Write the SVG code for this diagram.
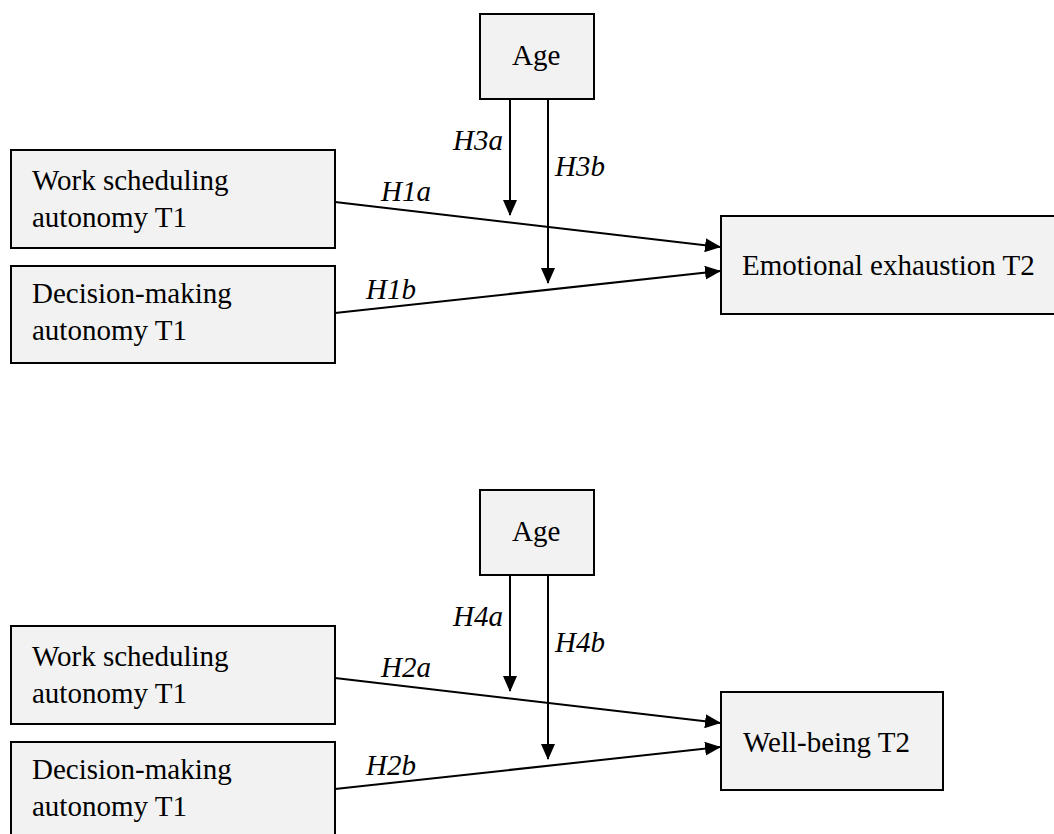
<svg xmlns="http://www.w3.org/2000/svg" width="1054" height="834" viewBox="0 0 1054 834">
  <style>
    .box { fill: #f2f2f2; stroke: #000; stroke-width: 2; }
    .txt { font-family: "Liberation Serif", "Times New Roman", serif; font-size: 29px; fill: #000; }
    .lbl { font-family: "Liberation Serif", "Times New Roman", serif; font-size: 29px; font-style: italic; fill: #000; }
    .conn { stroke: #000; stroke-width: 2; fill: none; marker-end: url(#arrow); }
  </style>
  <defs>
    <marker id="arrow" markerUnits="userSpaceOnUse" markerWidth="16" markerHeight="14" refX="15" refY="7" orient="auto">
      <path d="M0,0 L16,7 L0,14 Z" fill="#000"/>
    </marker>
  </defs>
  <rect width="1054" height="834" fill="#fff"/>

  <!-- Top model -->
  <g id="age1">
    <rect class="box" x="480" y="14" width="114" height="85"/>
    <text class="txt" x="512" y="65">Age</text>
  </g>
  <g id="work1">
    <rect class="box" x="11" y="150" width="324" height="98"/>
    <text class="txt" x="32" y="190">Work scheduling</text>
    <text class="txt" x="32" y="227">autonomy T1</text>
  </g>
  <g id="decision1">
    <rect class="box" x="11" y="266" width="324" height="97"/>
    <text class="txt" x="32" y="303">Decision-making</text>
    <text class="txt" x="32" y="340">autonomy T1</text>
  </g>
  <g id="emotional">
    <rect class="box" x="721" y="216" width="345" height="98"/>
    <text class="txt" x="742" y="275">Emotional exhaustion T2</text>
  </g>

  <!-- Bottom model -->
  <g id="age2">
    <rect class="box" x="480" y="490" width="114" height="85"/>
    <text class="txt" x="512" y="541">Age</text>
  </g>
  <g id="work2">
    <rect class="box" x="11" y="626" width="324" height="98"/>
    <text class="txt" x="32" y="666">Work scheduling</text>
    <text class="txt" x="32" y="703">autonomy T1</text>
  </g>
  <g id="decision2">
    <rect class="box" x="11" y="742" width="324" height="97"/>
    <text class="txt" x="32" y="779">Decision-making</text>
    <text class="txt" x="32" y="816">autonomy T1</text>
  </g>
  <g id="wellbeing">
    <rect class="box" x="721" y="692" width="222" height="98"/>
    <text class="txt" x="743" y="752">Well-being T2</text>
  </g>

  <g id="connectors">
    <line class="conn" x1="510" y1="100" x2="510" y2="215"/>
    <line class="conn" x1="548" y1="100" x2="548" y2="283"/>
    <line class="conn" x1="335" y1="202" x2="720" y2="247"/>
    <line class="conn" x1="335" y1="313" x2="720" y2="271"/>

    <line class="conn" x1="510" y1="576" x2="510" y2="691"/>
    <line class="conn" x1="548" y1="576" x2="548" y2="759"/>
    <line class="conn" x1="335" y1="678" x2="720" y2="723"/>
    <line class="conn" x1="335" y1="789" x2="720" y2="747"/>
  </g>

  <g id="labels">
    <text class="lbl" x="453" y="150">H3a</text>
    <text class="lbl" x="555" y="176">H3b</text>
    <text class="lbl" x="381" y="201">H1a</text>
    <text class="lbl" x="366" y="299">H1b</text>
    <text class="lbl" x="453" y="626">H4a</text>
    <text class="lbl" x="555" y="652">H4b</text>
    <text class="lbl" x="381" y="677">H2a</text>
    <text class="lbl" x="366" y="775">H2b</text>
  </g>
</svg>
